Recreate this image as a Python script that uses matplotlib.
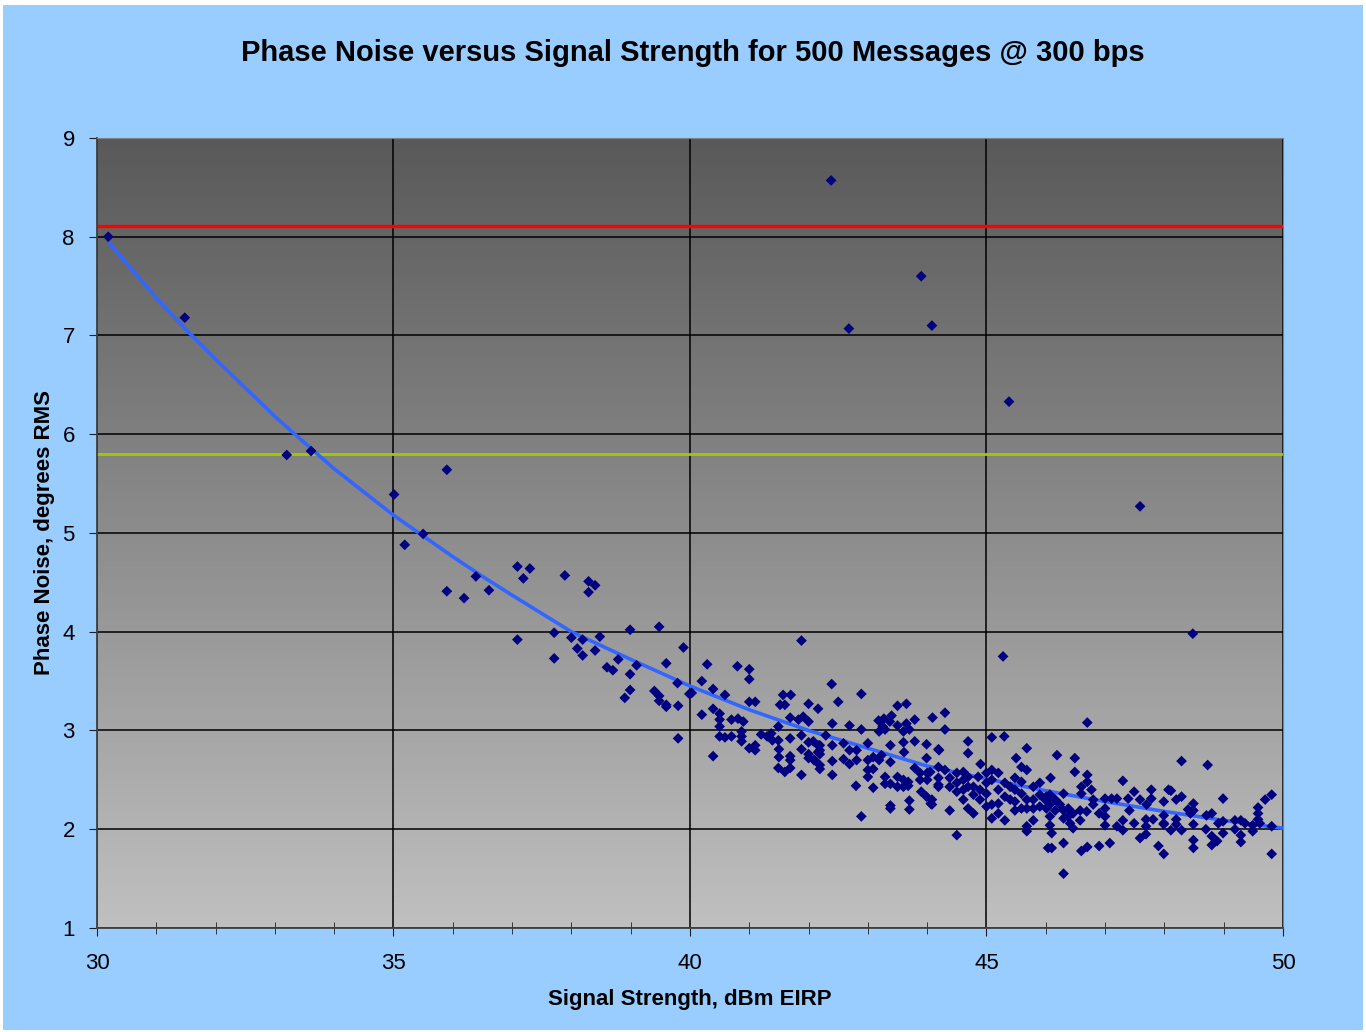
import matplotlib.pyplot as plt
from matplotlib.patches import Rectangle
from matplotlib.colors import LinearSegmentedColormap
import numpy as np

# readings: (signal strength dBm EIRP, phase noise deg RMS)
pts_sparse = [(30.19, 8.0), (31.48, 7.18), (33.2, 5.79), (33.61, 5.83), (35.01, 5.39), (35.19, 4.88),
              (35.5, 4.99), (35.9, 5.64), (35.9, 4.41), (36.19, 4.34), (36.39, 4.56), (36.61, 4.42),
              (37.09, 4.66), (37.19, 4.54), (37.3, 4.64), (37.89, 4.57), (38.29, 4.51), (38.4, 4.47),
              (38.29, 4.40), (37.09, 3.92), (37.71, 3.99), (37.71, 3.73)]
pts_outliers = [(42.38, 8.57), (42.68, 7.07), (43.9, 7.60), (44.08, 7.10), (45.38, 6.33), (47.59, 5.27),
                (48.48, 3.98), (45.28, 3.75), (46.7, 3.08), (48.73, 2.65)]
pts_38_40 = [(38.99, 4.02), (39.48, 4.05), (38.0, 3.94), (38.19, 3.92), (38.48, 3.95), (38.1, 3.83),
             (38.4, 3.81), (38.19, 3.76), (39.89, 3.84), (38.79, 3.72), (38.6, 3.64), (38.7, 3.61),
             (39.1, 3.66), (39.6, 3.68), (38.99, 3.57), (39.79, 3.48), (39.99, 3.37), (38.99, 3.41),
             (38.9, 3.33), (39.4, 3.40), (39.48, 3.35), (39.48, 3.30), (39.6, 3.26), (39.6, 3.24),
             (39.8, 3.25), (39.8, 2.92)]
pts_40_42 = [(41.88, 3.91), (40.29, 3.67), (40.8, 3.65), (41.0, 3.62), (41.0, 3.52), (40.2, 3.50),
             (40.39, 3.42), (40.03, 3.38), (40.59, 3.36), (41.0, 3.29), (41.1, 3.29), (41.52, 3.26),
             (41.6, 3.26), (41.57, 3.36), (41.7, 3.36), (42.0, 3.27), (42.16, 3.22), (40.39, 3.22),
             (40.2, 3.16), (40.5, 3.17), (40.5, 3.11), (40.5, 3.04), (40.7, 3.11), (40.81, 3.12),
             (40.9, 3.09), (41.69, 3.13), (41.83, 3.11), (41.91, 3.14), (42.0, 3.09), (41.49, 3.04),
             (40.5, 2.94), (40.59, 2.93), (40.7, 2.94), (40.87, 2.99), (40.87, 2.94), (40.87, 2.89),
             (41.2, 2.96), (41.3, 2.94), (41.37, 2.97), (41.39, 2.90), (41.49, 2.90), (41.69, 2.92),
             (41.88, 2.95), (42.0, 2.88), (41.88, 2.81), (42.0, 2.76), (42.16, 2.85), (42.16, 2.78),
             (41.0, 2.82), (41.1, 2.85), (41.1, 2.80), (40.39, 2.74), (41.5, 2.81), (41.5, 2.73),
             (41.69, 2.74), (41.69, 2.70), (42.0, 2.72), (42.1, 2.70), (41.49, 2.62), (41.6, 2.58),
             (41.69, 2.62), (41.88, 2.55)]
pts_42_44 = [(42.39, 3.47), (42.89, 3.37), (42.5, 3.29), (43.5, 3.25), (43.65, 3.27), (43.18, 3.10),
             (43.27, 3.12), (43.4, 3.15), (43.37, 3.09), (43.25, 3.04), (43.19, 2.99), (43.29, 3.01),
             (43.5, 3.05), (43.65, 3.07), (43.7, 3.01), (43.6, 2.99), (43.79, 3.11), (44.09, 3.13),
             (42.4, 3.07), (42.69, 3.05), (42.89, 3.01), (42.08, 2.89), (42.19, 2.85), (42.19, 2.80),
             (42.19, 2.76), (42.09, 2.70), (42.19, 2.65), (42.19, 2.61), (42.29, 2.95), (42.4, 2.85),
             (42.4, 2.69), (42.4, 2.55), (42.59, 2.87), (42.59, 2.71), (42.69, 2.80), (42.69, 2.66),
             (42.81, 2.80), (42.81, 2.70), (43.0, 2.87), (43.0, 2.70), (43.0, 2.60), (43.0, 2.53),
             (43.09, 2.73), (43.09, 2.61), (43.19, 2.70), (43.23, 2.75), (42.8, 2.44), (43.09, 2.42),
             (42.89, 2.13), (43.38, 2.85), (43.38, 2.68), (43.29, 2.53), (43.29, 2.46), (43.38, 2.46),
             (43.5, 2.53), (43.5, 2.43), (43.6, 2.50), (43.6, 2.43), (43.68, 2.48), (43.68, 2.44),
             (43.79, 2.62), (43.88, 2.57), (43.88, 2.50), (44.0, 2.57), (44.0, 2.50), (43.6, 2.88),
             (43.61, 2.78), (43.79, 2.89), (43.99, 2.86), (43.99, 2.72), (44.19, 2.81), (44.19, 2.63),
             (44.19, 2.45), (43.9, 2.38), (43.99, 2.33), (44.06, 2.26), (43.7, 2.29), (43.7, 2.20),
             (43.38, 2.24), (43.38, 2.21)]
pts_44_46 = [(44.3, 3.01), (44.3, 3.18), (44.69, 2.89), (44.69, 2.77), (45.09, 2.93), (45.3, 2.94),
             (44.2, 2.80), (45.68, 2.82), (45.5, 2.72), (44.9, 2.66), (45.59, 2.63), (45.68, 2.60),
             (44.05, 2.58), (44.19, 2.52), (44.19, 2.43), (44.3, 2.60), (44.38, 2.52), (44.38, 2.43),
             (44.5, 2.57), (44.5, 2.47), (44.5, 2.38), (44.61, 2.58), (44.61, 2.50), (44.61, 2.40),
             (44.61, 2.30), (44.69, 2.53), (44.69, 2.43), (44.78, 2.43), (44.78, 2.35), (44.86, 2.53),
             (44.89, 2.40), (44.89, 2.30), (45.0, 2.57), (45.0, 2.47), (45.0, 2.36), (45.09, 2.60),
             (45.09, 2.50), (45.2, 2.57), (45.2, 2.40), (45.2, 2.26), (45.09, 2.25), (45.31, 2.47),
             (45.31, 2.33), (45.4, 2.43), (45.4, 2.30), (45.48, 2.52), (45.48, 2.40), (45.48, 2.28),
             (45.59, 2.48), (45.59, 2.36), (45.59, 2.21), (45.68, 2.30), (45.68, 2.21), (45.79, 2.43),
             (45.79, 2.30), (45.79, 2.21), (45.9, 2.47), (45.9, 2.35), (45.9, 2.23), (46.01, 2.33),
             (46.01, 2.21), (44.08, 2.30), (44.08, 2.25), (44.38, 2.19), (44.69, 2.21), (44.78, 2.16),
             (45.0, 2.23), (45.09, 2.11), (45.31, 2.09), (45.2, 2.16), (45.48, 2.19), (45.79, 2.09),
             (45.68, 2.03), (45.68, 1.98), (44.5, 1.94), (46.04, 1.81)]
pts_46_48 = [(46.19, 2.75), (46.49, 2.72), (46.49, 2.58), (46.08, 2.52), (46.7, 2.55), (46.7, 2.48),
             (47.3, 2.49), (46.6, 2.43), (46.6, 2.36), (46.77, 2.40), (46.07, 2.35), (46.07, 2.25),
             (46.16, 2.30), (46.16, 2.19), (46.3, 2.36), (46.24, 2.25), (45.99, 2.30), (46.07, 2.13),
             (46.07, 2.04), (46.1, 1.96), (46.3, 2.19), (46.3, 2.11), (46.38, 2.21), (46.38, 2.13),
             (46.46, 2.16), (46.46, 2.01), (46.58, 2.19), (46.58, 2.09), (46.69, 2.18), (46.41, 2.06),
             (46.8, 2.30), (46.8, 2.25), (46.9, 2.16), (47.0, 2.31), (47.0, 2.21), (47.0, 2.13),
             (47.0, 2.04), (47.11, 2.31), (47.2, 2.31), (47.2, 2.03), (47.3, 2.09), (47.3, 1.99),
             (47.39, 2.31), (47.49, 2.38), (47.59, 2.30), (47.41, 2.19), (47.49, 2.06), (47.7, 2.25),
             (47.78, 2.40), (47.78, 2.31), (47.69, 2.10), (47.69, 2.03), (47.81, 2.10), (47.99, 2.28),
             (47.99, 2.06), (48.07, 2.40), (46.1, 1.81), (46.3, 1.86), (46.6, 1.78), (46.7, 1.82),
             (46.9, 1.83), (47.08, 1.86), (47.59, 1.91), (47.69, 1.95), (47.9, 1.83), (47.99, 1.75),
             (46.3, 1.55)]
pts_48_50 = [(48.29, 2.69), (48.11, 2.39), (48.2, 2.30), (48.29, 2.33), (48.49, 2.26), (48.4, 2.20),
             (48.49, 2.19), (48.44, 2.16), (48.99, 2.31), (47.99, 2.14), (47.99, 2.05), (48.2, 2.10),
             (48.2, 2.05), (48.11, 1.99), (48.29, 1.99), (48.49, 2.05), (48.71, 2.14), (48.8, 2.16),
             (48.91, 2.06), (48.99, 2.08), (48.99, 1.96), (48.7, 2.0), (48.8, 1.93), (48.89, 1.88),
             (48.49, 1.89), (48.49, 1.81), (48.8, 1.84), (49.19, 2.09), (49.29, 2.09), (49.19, 2.0),
             (49.29, 1.94), (49.29, 1.87), (49.49, 2.04), (49.49, 1.98), (49.58, 2.22), (49.58, 2.16),
             (49.58, 2.10), (49.7, 2.30), (49.81, 2.35), (49.81, 2.03), (49.81, 1.75), (49.36, 2.06),
             (49.61, 2.06)]

# trend line
trend_x = [30.2, 31.0, 31.5, 32.0, 33.0, 33.6, 34.0, 35.0, 36.0, 36.5, 37.0, 38.0, 39.0, 40.0,
           41.0, 42.0, 43.0, 44.0, 45.0, 46.0, 47.0, 48.0, 49.0, 50.0]
trend_y = [7.94, 7.38, 7.06, 6.76, 6.18, 5.86, 5.65, 5.18, 4.76, 4.56, 4.37, 4.0, 3.72, 3.45,
           3.21, 3.0, 2.82, 2.64, 2.51, 2.39, 2.28, 2.18, 2.09, 2.01]

red_limit = 8.11
green_limit = 5.80

all_pts = pts_sparse + pts_outliers + pts_38_40 + pts_40_42 + pts_42_44 + pts_44_46 + pts_46_48 + pts_48_50
sig = np.array([p[0] for p in all_pts])
noise = np.array([p[1] for p in all_pts])

plt.rcParams['font.family'] = ['Liberation Sans', 'DejaVu Sans']

fig = plt.figure(figsize=(13.66, 10.32), dpi=100, facecolor='white')
bg = Rectangle((0.0022, 0.0019), 0.9956, 0.9932, transform=fig.transFigure,
               facecolor='#99CCFF', edgecolor='none', zorder=-10)
fig.add_artist(bg)
ax = fig.add_axes([0.071, 0.1008, 0.8682, 0.7655], zorder=1)

# gray gradient in plot area
grad = np.linspace(0, 1, 256).reshape(-1, 1)
ax.imshow(grad, cmap=LinearSegmentedColormap.from_list('g', ['#595959', '#C0C0C0']),
          extent=[0, 1, 0, 1], transform=ax.transAxes, aspect='auto', zorder=0, origin='upper')

ax.set_xlim(30, 50)
ax.set_ylim(1, 9)
ax.set_xticks([30, 35, 40, 45, 50])
ax.set_xticks(np.arange(30, 51, 1), minor=True)
ax.set_yticks(range(1, 10))
ax.grid(True, which='major', color='black', lw=1.1, zorder=1)

ax.axhline(red_limit, color='#FF0000', lw=2.4, zorder=2)
ax.axhline(green_limit, color='#A4C800', lw=2.0, zorder=2)
ax.plot(trend_x, trend_y, color='#3366FF', lw=2.6, zorder=3, solid_capstyle='butt')
ax.scatter(sig, noise, marker='D', s=30, color='#000080', edgecolors='none', zorder=4)

for s in ['top', 'right']:
    ax.spines[s].set_color('#808080')
for s in ['left', 'bottom']:
    ax.spines[s].set_color('#404040')
    ax.spines[s].set_linewidth(1.3)

ax.tick_params(axis='both', which='major', labelsize=16, length=6, color='#202020', direction='out')
ax.tick_params(axis='x', which='minor', length=9, direction='inout', color='#202020')
ax.tick_params(axis='x', which='major', pad=12)
ax.tick_params(axis='y', which='major', pad=10)

ax.set_xlabel('Signal Strength, dBm EIRP', fontsize=16, fontweight='bold', labelpad=11)
ax.set_ylabel('Phase Noise, degrees RMS', fontsize=16, fontweight='bold', labelpad=5)
fig.text(0.507, 0.949, 'Phase Noise versus Signal Strength for 500 Messages @ 300 bps',
         ha='center', va='center', fontsize=21, fontweight='bold')

fig.savefig('out.png', dpi=100, facecolor='white')
